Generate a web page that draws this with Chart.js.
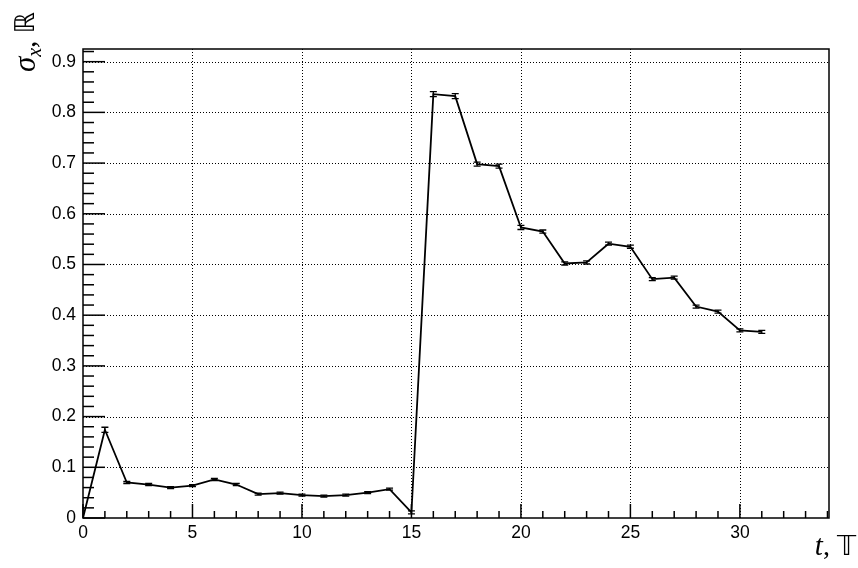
<!DOCTYPE html>
<html>
<head>
<meta charset="utf-8">
<script src="https://cdn.jsdelivr.net/npm/chart.js@4.4.1/dist/chart.umd.min.js"></script>
<style>
html,body{margin:0;padding:0;background:#fff;}
#wrap{width:858px;height:568px;}
</style>
</head>
<body>
<div id="wrap"><canvas id="c" width="858" height="568"></canvas></div>
<script>
const tValues = [0,1,2,3,4,5,6,7,8,9,10,11,12,13,14,15,16,17,18,19,20,21,22,23,24,25,26,27,28,29,30,31];
const sigmaValues = [0,0.174,0.070,0.066,0.060,0.064,0.076,0.066,0.047,0.049,0.045,0.043,0.045,0.050,0.057,0.011,
  0.836,0.832,0.698,0.694,0.573,0.565,0.502,0.504,0.541,0.535,0.471,0.474,0.417,0.407,0.370,0.367];
const sigmaErrors = [0,0.005,0.002,0.002,0.002,0.002,0.002,0.002,0.002,0.002,0.002,0.002,0.002,0.002,0.002,0.003,
  0.005,0.005,0.004,0.004,0.004,0.003,0.003,0.003,0.003,0.003,0.003,0.003,0.003,0.003,0.003,0.003];
const xTickValues = [0,5,10,15,20,25,30];
const yTickValues = [0,0.1,0.2,0.3,0.4,0.5,0.6,0.7,0.8,0.9];
const xMin = 0, xMax = 34.07, yMin = 0, yMax = 0.925;

const points = tValues.map((t,i)=>({x:t,y:sigmaValues[i]}));

const framePlugin = {
  id:'frame',
  beforeDatasetsDraw(chart){
    const {ctx, chartArea:a, scales:{x,y}} = chart;
    ctx.save();
    ctx.strokeStyle='#000';
    ctx.lineWidth=1;
    ctx.setLineDash([1,2]);
    xTickValues.forEach(v=>{
      if(v<=xMin||v>=xMax) return;
      const px=Math.round(x.getPixelForValue(v))+0.5;
      ctx.beginPath();ctx.moveTo(px,a.top);ctx.lineTo(px,a.bottom);ctx.stroke();
    });
    yTickValues.forEach(v=>{
      if(v<=yMin||v>=yMax) return;
      const py=Math.round(y.getPixelForValue(v))+0.5;
      ctx.beginPath();ctx.moveTo(a.left,py);ctx.lineTo(a.right,py);ctx.stroke();
    });
    ctx.setLineDash([]);
    ctx.lineWidth=1.5;
    for(let v=0; v<=xMax+1e-9; v+=1){
      const px=x.getPixelForValue(v);
      const len = (v%5===0)?14:7;
      ctx.beginPath();ctx.moveTo(px,a.bottom);ctx.lineTo(px,a.bottom-len);ctx.stroke();
    }
    for(let k=0; k*0.02<=yMax+1e-9; k++){
      const v=k*0.02;
      const py=y.getPixelForValue(v);
      const len = (k%5===0)?22:11;
      ctx.beginPath();ctx.moveTo(a.left,py);ctx.lineTo(a.left+len,py);ctx.stroke();
    }
    ctx.lineWidth=1.5;
    ctx.strokeRect(a.left,a.top,a.right-a.left,a.bottom-a.top);
    ctx.restore();
  },
  afterDatasetsDraw(chart){
    const {ctx, scales:{x,y}} = chart;
    ctx.save();
    ctx.strokeStyle='#000';
    ctx.lineWidth=1.3;
    tValues.forEach((t,i)=>{
      const e=sigmaErrors[i];
      if(!e) return;
      const px=x.getPixelForValue(t);
      const y1=y.getPixelForValue(sigmaValues[i]-e);
      const y2=y.getPixelForValue(sigmaValues[i]+e);
      ctx.beginPath();
      ctx.moveTo(px,y1);ctx.lineTo(px,y2);
      ctx.moveTo(px-3.5,y1);ctx.lineTo(px+3.5,y1);
      ctx.moveTo(px-3.5,y2);ctx.lineTo(px+3.5,y2);
      ctx.stroke();
    });
    ctx.fillStyle='#000';
    ctx.save();
    ctx.translate(35,12);
    ctx.rotate(-Math.PI/2);
    ctx.textBaseline='alphabetic';
    ctx.textAlign='left';
    const f1='italic 31px "Liberation Serif"';
    const f2='italic 20px "Liberation Serif"';
    const f3='29px "Liberation Serif"';
    const f4='27px "DejaVu Sans"';
    const parts=[[ 'σ',f1,0],['x',f2,6],[', ',f3,0],['ℝ',f4,-1]];
    let w=0;
    parts.forEach(p=>{ctx.font=p[1];w+=ctx.measureText(p[0]).width;});
    let cx=-w;
    parts.forEach(p=>{ctx.font=p[1];ctx.fillText(p[0],cx,p[2]);cx+=ctx.measureText(p[0]).width;});
    ctx.restore();
    const xparts=[['t','italic 29px "Liberation Serif"'],[', ','28px "Liberation Serif"'],['𝕋','27px "DejaVu Sans"']];
    let xw=0;
    xparts.forEach(p=>{ctx.font=p[1];xw+=ctx.measureText(p[0]).width;});
    let xx=856-xw;
    ctx.textBaseline='alphabetic';ctx.textAlign='left';
    xparts.forEach(p=>{ctx.font=p[1];ctx.fillText(p[0],xx,555);xx+=ctx.measureText(p[0]).width;});
    ctx.restore();
  }
};

new Chart(document.getElementById('c'),{
  type:'line',
  data:{datasets:[{data:points,borderColor:'#000',borderWidth:1.8,pointRadius:0,tension:0,fill:false}]},
  options:{
    responsive:false,animation:false,
    layout:{padding:{left:0,top:49,right:29,bottom:0}},
    plugins:{legend:{display:false},tooltip:{enabled:false}},
    scales:{
      x:{type:'linear',min:xMin,max:xMax,
        grid:{display:false,drawTicks:false},border:{display:false},
        afterFit(s){s.height=50;},
        afterBuildTicks(s){s.ticks=xTickValues.map(v=>({value:v}));},
        ticks:{autoSkip:false,maxRotation:0,padding:5,color:'#000',font:{family:'Liberation Sans',size:17.5},callback:v=>String(v)}},
      y:{type:'linear',min:yMin,max:yMax,
        grid:{display:false,drawTicks:false},border:{display:false},
        afterFit(s){s.width=83;},
        afterBuildTicks(s){s.ticks=yTickValues.map(v=>({value:v}));},
        ticks:{autoSkip:false,padding:7,color:'#000',font:{family:'Liberation Sans',size:17.5},callback:v=>(v===0?'0':(Math.round(v*10)/10).toFixed(1))}}
    }
  },
  plugins:[framePlugin]
});
</script>
</body>
</html>
